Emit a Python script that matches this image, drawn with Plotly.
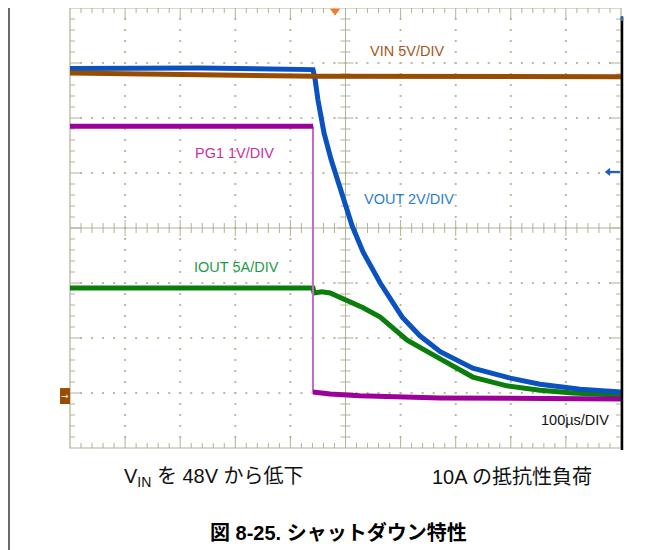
import numpy as np
import plotly.graph_objects as go

# ---- data (x: time in µs, 100 µs/div ; y: screen divisions, 8 div) ----
vout_t = [0, 236, 441, 445, 450, 461, 474, 492, 512, 532, 563, 603, 635, 672, 731, 799, 853, 926, 1000]
vout_v = [6.90, 6.91, 6.88, 6.69, 6.33, 5.73, 5.24, 4.64, 4.04, 3.56, 3.00, 2.38, 2.04, 1.75, 1.45, 1.27, 1.16, 1.07, 1.02]

vin_t = [0, 236, 441, 445, 1000]
vin_v = [6.82, 6.79, 6.78, 6.76, 6.75]

iout_t = [0, 236, 441, 443, 457, 472, 503, 532, 563, 612, 672, 731, 793, 853, 913, 1000]
iout_v = [2.91, 2.91, 2.91, 2.82, 2.84, 2.82, 2.69, 2.55, 2.38, 1.96, 1.62, 1.29, 1.13, 1.05, 1.00, 0.96]

pg1_t = [0, 441, 441, 472, 526, 672, 1000]
pg1_v = [5.85, 5.85, 1.02, 0.98, 0.95, 0.91, 0.89]

channel_labels = ["VIN 5V/DIV", "PG1 1V/DIV", "VOUT 2V/DIV", "IOUT 5A/DIV"]
timebase_label = "100µs/DIV"
caption_left = "V<sub>IN</sub> を 48V から低下"
caption_right = "10A の抵抗性負荷"
title_text = "<b>図 8-25. シャットダウン特性</b>"

# ---- screen geometry (page body has an 8 px margin) ----
OFF = 8
XMAX, YMAX = 1000.0, 8.0
PLOT_W, PLOT_H = 551.0, 440.0
PX = XMAX / PLOT_W   # µs per pixel
PY = YMAX / PLOT_H   # div per pixel
L, T = 70 - OFF, 8 - OFF
FIG_W, FIG_H = 657, 542

def pxp(x):  # page pixel x -> paper
    return (x - 70) / PLOT_W
def pyp(y):  # page pixel y -> paper
    return (448 - y) / PLOT_H

GRID = "#b3b196"
DOT = "#bcb9a0"
FONT = "Liberation Sans, Arial, Noto Sans CJK JP, sans-serif"

fig = go.Figure()

# dotted graticule
dx, dy = [], []
for xi in range(100, 1000, 100):
    if xi == 500:
        continue
    for k in range(1, 40):
        dx.append(xi); dy.append(k * 0.2)
for yi in range(1, 8):
    if yi == 4:
        continue
    for k in range(1, 50):
        dx.append(k * 20); dy.append(yi)
fig.add_trace(go.Scatter(x=dx, y=dy, mode="markers", hoverinfo="skip",
                         marker=dict(symbol="square", size=2, color=DOT, line=dict(width=0))))

# ticks and center cross
tx, ty = [], []
def seg(x0, y0, x1, y1):
    tx.extend([x0, x1, None]); ty.extend([y0, y1, None])

seg(500, 0, 500, 8)
seg(0, 4, 1000, 4)
for k in range(1, 50):
    x = k * 20
    major = (k % 5 == 0)
    le = (11 if major else 5)
    cl = (8 if major else 5)
    seg(x, 8, x, 8 - le * PY)
    seg(x, 0, x, le * PY)
    seg(x, 4 - cl * PY, x, 4 + cl * PY)
for k in range(1, 40):
    y = k * 0.2
    major = (k % 5 == 0)
    le = (11 if major else 5)
    cl = (8 if major else 5)
    seg(0, y, le * PX, y)
    seg(1000, y, 1000 - le * PX, y)
    seg(500 - cl * PX, y, 500 + cl * PX, y)
fig.add_trace(go.Scatter(x=tx, y=ty, mode="lines", hoverinfo="skip",
                         line=dict(color=GRID, width=1)))

# ---- waveforms ----
W = 5
fig.add_trace(go.Scatter(x=iout_t, y=iout_v, mode="lines", line=dict(color="#0b7d0b", width=W)))
fig.add_trace(go.Scatter(x=vout_t, y=vout_v, mode="lines", line=dict(color="#0a52bf", width=W)))
fig.add_trace(go.Scatter(x=vin_t, y=vin_v, mode="lines", line=dict(color="#984c00", width=W)))
fig.add_trace(go.Scatter(x=pg1_t[1:3], y=pg1_v[1:3], mode="lines", line=dict(color="#c46cc4", width=2)))
fig.add_trace(go.Scatter(x=pg1_t[0:2], y=pg1_v[0:2], mode="lines", line=dict(color="#9b0099", width=W)))
fig.add_trace(go.Scatter(x=pg1_t[2:], y=pg1_v[2:], mode="lines", line=dict(color="#9b0099", width=W)))

# trigger marker at top
fig.add_trace(go.Scatter(x=[481], y=[YMAX - 3 * PY], mode="markers", cliponaxis=False,
                         marker=dict(symbol="triangle-down", size=9, color="#f47a2a")))
# VOUT reference arrow at right edge
fig.add_trace(go.Scatter(x=[978, 998], y=[5.02, 5.02], mode="lines", hoverinfo="skip",
                         line=dict(color="#1a5cc0", width=2)))
fig.add_trace(go.Scatter(x=[977], y=[5.02], mode="markers", hoverinfo="skip", cliponaxis=False,
                         marker=dict(symbol="triangle-left", size=7, color="#1a5cc0")))

# ---- labels ----
ann = []
def lab(text, x, y, color):
    ann.append(dict(text=text, x=x, y=y, xref="x", yref="y", xanchor="left", yanchor="middle",
                    showarrow=False, font=dict(family=FONT, size=14.5, color=color)))
lab(channel_labels[0], 541, 7.22, "#a8561e")
lab(channel_labels[1], 223, 5.36, "#c8309c")
lab(channel_labels[2], 530, 4.53, "#2a7ed0")
lab(channel_labels[3], 221, 3.29, "#1f9a4a")
lab(timebase_label, 851, 0.51, "#111111")

# VIN reference marker arrow (inside brown box)
ann.append(dict(text="→", x=pxp(65), y=0.945, xref="paper", yref="y", showarrow=False,
                xanchor="center", yanchor="middle",
                font=dict(family="DejaVu Sans", size=9, color="white")))

# captions
ann.append(dict(text=caption_left, x=pxp(122), y=pyp(477),
                xref="paper", yref="paper", xanchor="left", yanchor="middle", showarrow=False,
                font=dict(family=FONT, size=20, color="#111111")))
ann.append(dict(text=caption_right, x=pxp(430), y=pyp(477),
                xref="paper", yref="paper", xanchor="left", yanchor="middle", showarrow=False,
                font=dict(family=FONT, size=20, color="#111111")))
ann.append(dict(text=title_text, x=pxp(338), y=pyp(532),
                xref="paper", yref="paper", xanchor="center", yanchor="middle", showarrow=False,
                font=dict(family=FONT, size=20, color="#000000")))

shapes = [
    # graticule border
    dict(type="rect", xref="paper", yref="paper", x0=0, x1=1, y0=0, y1=1,
         line=dict(color=GRID, width=1.2), layer="below"),
    # black right border of the scope screen
    dict(type="line", xref="paper", yref="paper", x0=pxp(622), x1=pxp(622),
         y0=pyp(17), y1=pyp(450), line=dict(color="#000000", width=2.5)),
    dict(type="line", xref="paper", yref="paper", x0=pxp(622), x1=pxp(622),
         y0=pyp(16), y1=pyp(21), line=dict(color="#2a6aa8", width=2.5)),
    # page left border
    dict(type="line", xref="paper", yref="paper", x0=pxp(9), x1=pxp(9),
         y0=pyp(6), y1=pyp(560), line=dict(color="#6a6a6a", width=2)),
    # VIN ground marker box
    dict(type="rect", xref="paper", yref="y", x0=pxp(60), x1=0, y0=0.80, y1=1.09,
         fillcolor="#9a4c00", line=dict(width=0)),
]

fig.update_layout(
    width=FIG_W, height=FIG_H, autosize=False,
    margin=dict(l=L, r=FIG_W - (621 - OFF), t=T, b=FIG_H - (448 - OFF), pad=0),
    paper_bgcolor="white", plot_bgcolor="white",
    showlegend=False,
    xaxis=dict(range=[0, XMAX], visible=False, fixedrange=True),
    yaxis=dict(range=[0, YMAX], visible=False, fixedrange=True),
    annotations=ann, shapes=shapes,
)

fig.write_html("out.html")
